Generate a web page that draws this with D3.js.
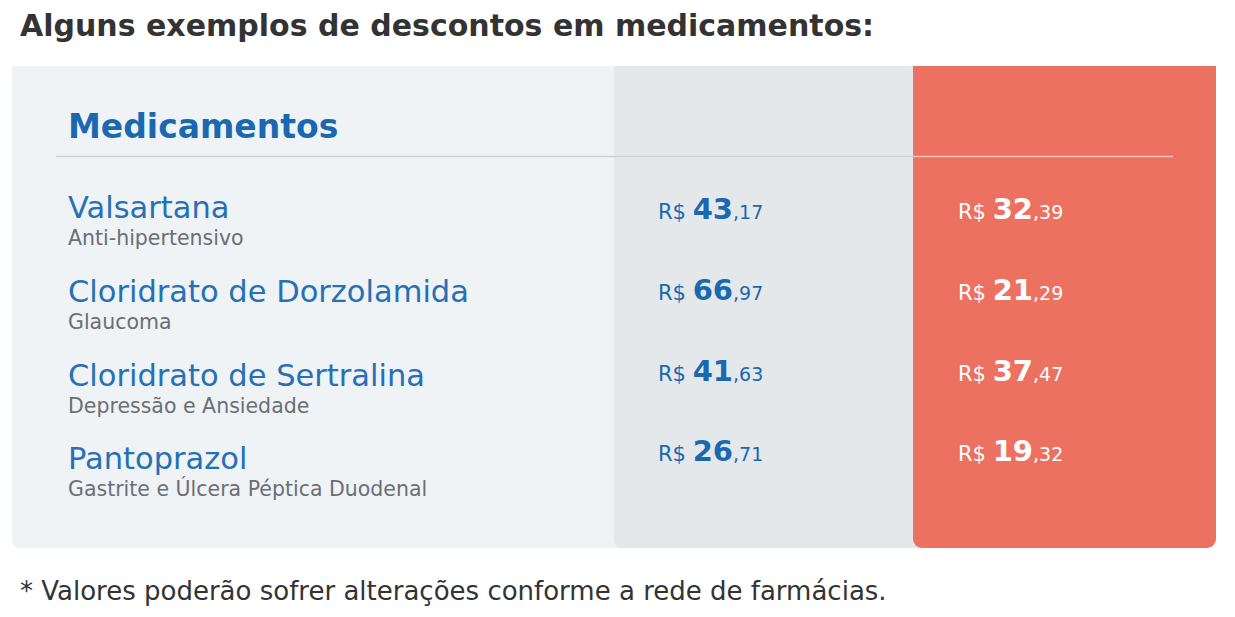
<!DOCTYPE html>
<html>
<head>
<meta charset="utf-8">
<script src="https://cdn.jsdelivr.net/npm/d3@7/dist/d3.min.js"></script>
<style>
  body { margin: 0; background: #fff; }
  svg { display: block; }
</style>
</head>
<body>
<svg id="chart"></svg>
<script>
// dados da tabela
const medicamentos = ['Valsartana', 'Cloridrato de Dorzolamida', 'Cloridrato de Sertralina', 'Pantoprazol'];
const indicacoes = ['Anti-hipertensivo', 'Glaucoma', 'Depressão e Ansiedade', 'Gastrite e Úlcera Péptica Duodenal'];
const precoReferencia = [43.17, 66.97, 41.63, 26.71];
const precoDesconto = [32.39, 21.29, 37.47, 19.32];

const titulo = 'Alguns exemplos de descontos em medicamentos:';
const cabecalho = 'Medicamentos';
const nota = '* Valores poderão sofrer alterações conforme a rede de farmácias.';

const width = 1235, height = 617;
const font = "'DejaVu Sans', sans-serif";

const svg = d3.select('#chart')
  .attr('width', width)
  .attr('height', height)
  .style('font-family', font);

const panel = { x0: 12, x1: 1216, y0: 66, y1: 548 };
const colGray = 614, colRed = 913;

// linhas da tabela (nomes e precos tem passos um pouco diferentes)
const y = d3.scaleBand()
  .domain(medicamentos)
  .range([176, 511]);
const yPreco = d3.scaleBand()
  .domain(medicamentos)
  .range([177, 500]);

const rows = medicamentos.map((m, i) => ({
  nome: m,
  indicacao: indicacoes[i],
  ref: precoReferencia[i],
  desc: precoDesconto[i]
}));

function roundBottom(x0, y0, x1, y1, r, left, right) {
  const p = d3.path();
  p.moveTo(x0, y0);
  p.lineTo(x1, y0);
  if (right) { p.lineTo(x1, y1 - r); p.arcTo(x1, y1, x1 - r, y1, r); }
  else p.lineTo(x1, y1);
  if (left) { p.lineTo(x0 + r, y1); p.arcTo(x0, y1, x0, y1 - r, r); }
  else p.lineTo(x0, y1);
  p.closePath();
  return p.toString();
}

// fundos
svg.append('path')
  .attr('d', roundBottom(panel.x0, panel.y0, colGray + 10, panel.y1, 8, true, false))
  .attr('fill', '#eff3f6');
svg.append('path')
  .attr('d', roundBottom(colGray, panel.y0, colRed + 10, panel.y1, 8, true, false))
  .attr('fill', '#e4e8eb');
svg.append('path')
  .attr('d', roundBottom(colRed, panel.y0, panel.x1, panel.y1, 9, true, true))
  .attr('fill', '#ec7160');

// titulo
svg.append('text')
  .attr('x', 20).attr('y', 36)
  .attr('font-size', 30).attr('font-weight', 'bold')
  .attr('fill', '#333333')
  .text(titulo);

svg.append('text')
  .attr('x', 68).attr('y', 138)
  .attr('font-size', 33).attr('font-weight', 'bold')
  .attr('fill', '#1a68b0')
  .text(cabecalho);

// divisoria
svg.append('line')
  .attr('x1', 56).attr('x2', colRed).attr('y1', 156.5).attr('y2', 156.5)
  .attr('stroke', '#cdd2d6').attr('stroke-width', 1.5);
svg.append('line')
  .attr('x1', colRed).attr('x2', 1173).attr('y1', 156.5).attr('y2', 156.5)
  .attr('stroke', '#f6c2b9').attr('stroke-width', 1.5);

const row = svg.selectAll('g.row')
  .data(rows)
  .join('g')
  .attr('class', 'row');

row.append('text')
  .attr('x', 68)
  .attr('y', d => y(d.nome) + 42)
  .attr('font-size', 30.5)
  .attr('fill', '#2670b5')
  .text(d => d.nome);

row.append('text')
  .attr('x', 68)
  .attr('y', d => y(d.nome) + 69)
  .attr('font-size', 20.5)
  .attr('fill', '#6b6e72')
  .text(d => d.indicacao);

function preco(sel, acc, x, color) {
  const t = sel.append('text')
    .attr('x', x)
    .attr('y', d => yPreco(d.nome) + 42)
    .attr('fill', color);
  t.append('tspan').attr('font-size', 21).text('R$ ');
  t.append('tspan').attr('font-size', 29).attr('font-weight', 'bold')
    .text(d => Math.floor(acc(d)));
  t.append('tspan').attr('font-size', 19)
    .text(d => ',' + acc(d).toFixed(2).split('.')[1]);
}

preco(row, d => d.ref, 658, '#1a68b0');
preco(row, d => d.desc, 958, '#ffffff');

// nota de rodape
svg.append('text')
  .attr('x', 20).attr('y', 600)
  .attr('font-size', 26)
  .attr('fill', '#333333')
  .text(nota);
</script>
</body>
</html>
